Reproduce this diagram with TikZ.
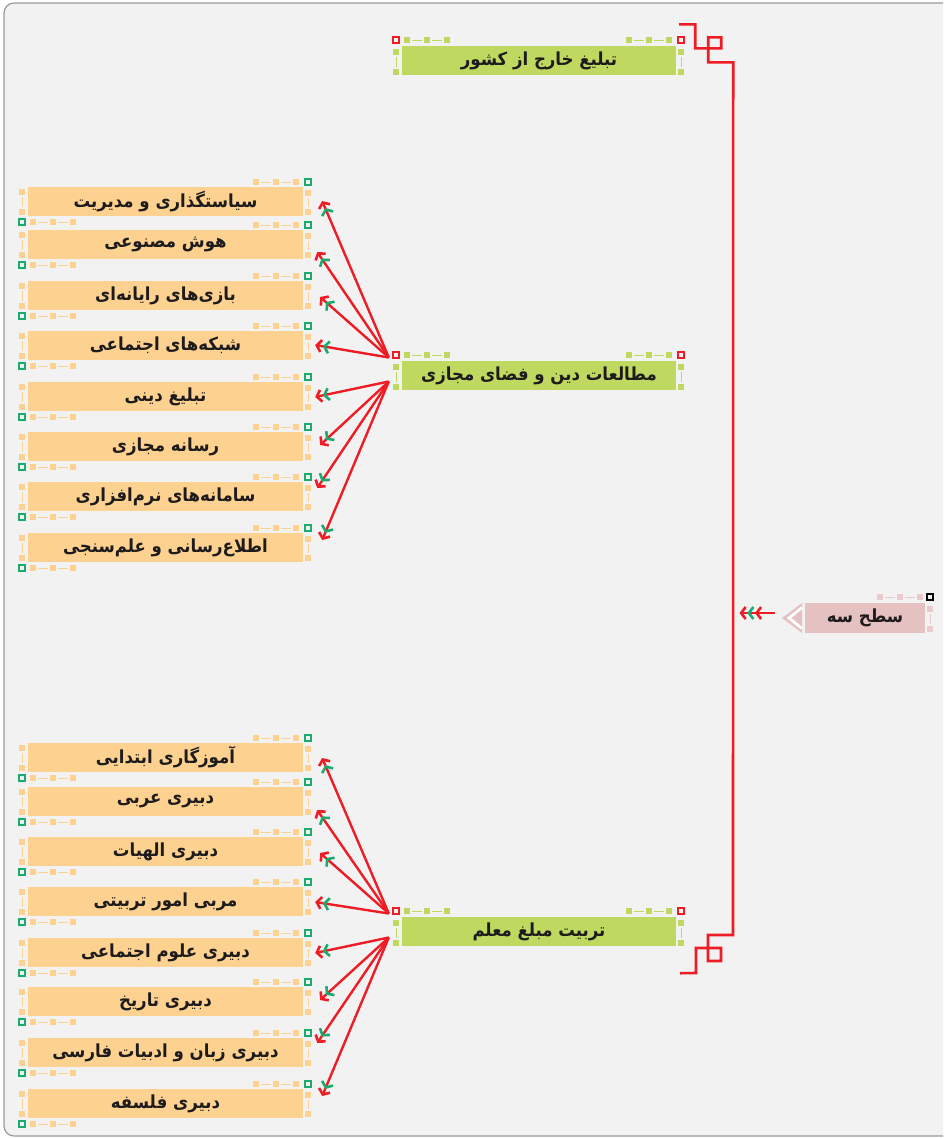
\documentclass[tikz,border=0pt]{standalone}
\usepackage{fontspec}
\usetikzlibrary{arrows.meta,calc}
\TeXXeTstate=1
\newfontfamily\fa[Script=Arabic,FakeStretch=0.92]{DejaVu Sans}
\definecolor{cBg}{HTML}{F2F2F2}
\definecolor{cFrame}{HTML}{9A9A9A}
\definecolor{cLime}{HTML}{BFD960}
\definecolor{cOrange}{HTML}{FDD18F}
\definecolor{cPink}{HTML}{E6C1C1}
\definecolor{cTeal}{HTML}{1DAA6F}
\definecolor{cRed}{HTML}{EE1D25}
\definecolor{cInk}{HTML}{1E1B1C}
\newcommand\hsq[3]{\fill[#3] (#1-3.1,#2-3.1) rectangle (#1+3.1,#2+3.1);}
\newcommand\osq[3]{\draw[#3,line width=1.5pt] (#1-3.2,#2-3.2) rectangle (#1+3.2,#2+3.2);}
\newcommand\hdsh[4]{\draw[#4,line width=1pt] (#1,#3) -- (#2,#3);}
\newcommand\vdsh[4]{\draw[#4,line width=1pt] (#3,#1) -- (#3,#2);}
% handles of an orange child box, #1 = top y
\newcommand\ohandles[1]{%
  \foreach \xx in {256,276,296} {\hsq{\xx}{#1-5}{cOrange}}
  \hdsh{261}{271}{#1-5}{cOrange}\hdsh{281}{291}{#1-5}{cOrange}
  \osq{308}{#1-5}{cTeal}
  \hsq{308}{#1+6}{cOrange}\hsq{308}{#1+25}{cOrange}\vdsh{#1+11}{#1+20}{308}{cOrange}
  \hsq{22}{#1+5}{cOrange}\hsq{22}{#1+25}{cOrange}\vdsh{#1+10}{#1+20}{22}{cOrange}
  \osq{22}{#1+35}{cTeal}
  \foreach \xx in {33,53,73} {\hsq{\xx}{#1+35}{cOrange}}
  \hdsh{38}{48}{#1+35}{cOrange}\hdsh{58}{68}{#1+35}{cOrange}
}
% handles of a green box, #1 = top y
\newcommand\ghandles[1]{%
  \osq{396}{#1-6}{cRed}\osq{681}{#1-6}{cRed}
  \foreach \xx in {407,427,447,629,649,669} {\hsq{\xx}{#1-6}{cLime}}
  \hdsh{412}{422}{#1-6}{cLime}\hdsh{432}{442}{#1-6}{cLime}
  \hdsh{634}{644}{#1-6}{cLime}\hdsh{654}{664}{#1-6}{cLime}
  \hsq{396}{#1+6}{cLime}\hsq{396}{#1+26}{cLime}\vdsh{#1+11}{#1+21}{396}{cLime}
  \hsq{681}{#1+6}{cLime}\hsq{681}{#1+26}{cLime}\vdsh{#1+11}{#1+21}{681}{cLime}
}
\tikzset{
  lbl/.style={font=\fa\bfseries\fontsize{18}{20}\selectfont, text=cInk, inner sep=0pt, minimum height=29pt},
  greenbox/.style={lbl, fill=cLime, minimum width=274pt},
  orangebox/.style={lbl, fill=cOrange, minimum width=275pt},
  rootbox/.style={lbl, fill=cPink, minimum width=120pt, minimum height=30pt},
  childlink/.style={draw=cRed, line width=2.4pt,
    -{Straight Barb[color=cTeal,length=4.5pt,width=12pt,line width=2.6pt,sep=0.3pt] Straight Barb[color=cRed,length=4.5pt,width=12pt,line width=2.6pt]}},
  rootlink/.style={draw=cRed, line width=2.4pt,
    -{Straight Barb[color=cRed,length=4.5pt,width=12pt,line width=2.6pt,sep=0.3pt] Straight Barb[color=cTeal,length=4.5pt,width=12pt,line width=2.6pt,sep=0.3pt] Straight Barb[color=cRed,length=4.5pt,width=12pt,line width=2.6pt]}},
  bus/.style={draw=cRed, line width=2.6pt}
}
\begin{document}
\begin{tikzpicture}[x=1pt,y=-1pt]
\useasboundingbox (0,0) rectangle (943,1138);
\clip (0,0) rectangle (943,1138);
\draw[fill=cBg, draw=cFrame, line width=1.2pt, rounded corners=10pt] (4,3) rectangle (965,1136);

% green parents
\ghandles{46}
\node[greenbox] (g1) at (539,60.5) {\beginR تبلیغ خارج از کشور\endR};
\ghandles{361}
\node[greenbox] (g2) at (539,375.5) {\beginR مطالعات دین و فضای مجازی\endR};
\ghandles{917}
\node[greenbox] (g3) at (539,931.5) {\beginR تربیت مبلغ معلم\endR};

% root
\hsq{880}{597}{cPink!85}\hsq{900}{597}{cPink!85}\hsq{920}{597}{cPink!85}
\hdsh{885}{895}{597}{cPink!85}\hdsh{905}{915}{597}{cPink!85}
\osq{930}{597}{black}
\hsq{930}{609}{cPink!85}\hsq{930}{629}{cPink!85}\vdsh{614}{624}{930}{cPink!85}
\node[rootbox] (root) at (865,618) {\beginR سطح سه\endR};
\fill[cPink] (802,603) -- (782,618) -- (802,633) -- cycle;
\draw[white, line width=2.8pt] (802,607.5) -- (789,618) -- (802,628.5);

% orange children, group 1
\foreach \t in {187,230,281,331,382,432,482,533} {\ohandles{\t}}
\node[orangebox] (a1) at (165.5,201.5) {\beginR سیاستگذاری و مدیریت\endR};
\node[orangebox] (a2) at (165.5,244.5) {\beginR هوش مصنوعی\endR};
\node[orangebox] (a3) at (165.5,295.5) {\beginR بازی‌های رایانه‌ای\endR};
\node[orangebox] (a4) at (165.5,345.5) {\beginR شبکه‌های اجتماعی\endR};
\node[orangebox] (a5) at (165.5,396.5) {\beginR تبلیغ دینی\endR};
\node[orangebox] (a6) at (165.5,446.5) {\beginR رسانه مجازی\endR};
\node[orangebox] (a7) at (165.5,496.5) {\beginR سامانه‌های نرم‌افزاری\endR};
\node[orangebox] (a8) at (165.5,547.5) {\beginR اطلاع‌رسانی و علم‌سنجی\endR};

% orange children, group 2
\foreach \t in {743,787,837,887,938,987,1038,1089} {\ohandles{\t}}
\node[orangebox] (b1) at (165.5,757.5) {\beginR آموزگاری ابتدایی\endR};
\node[orangebox] (b2) at (165.5,801.5) {\beginR دبیری عربی\endR};
\node[orangebox] (b3) at (165.5,851.5) {\beginR دبیری الهیات\endR};
\node[orangebox] (b4) at (165.5,901.5) {\beginR مربی امور تربیتی\endR};
\node[orangebox] (b5) at (165.5,952.5) {\beginR دبیری علوم اجتماعی\endR};
\node[orangebox] (b6) at (165.5,1001.5) {\beginR دبیری تاریخ\endR};
\node[orangebox] (b7) at (165.5,1052.5) {\beginR دبیری زبان و ادبیات فارسی\endR};
\node[orangebox] (b8) at (165.5,1103.5) {\beginR دبیری فلسفه\endR};

% links, group 1
\draw[childlink] ($(g2.west)+(-13,-18)$) -- ($(a1.east)+(19,-0.5)$);
\draw[childlink] ($(g2.west)+(-13,-18)$) -- ($(a2.east)+(14,7.5)$);
\draw[childlink] ($(g2.west)+(-13,-18)$) -- ($(a3.east)+(17,1.5)$);
\draw[childlink] ($(g2.west)+(-13,-18)$) -- ($(a4.east)+(12,-0.5)$);
\draw[childlink] ($(g2.west)+(-13,6)$) -- ($(a5.east)+(12,0.5)$);
\draw[childlink] ($(g2.west)+(-13,6)$) -- ($(a6.east)+(17,-1.5)$);
\draw[childlink] ($(g2.west)+(-13,6)$) -- ($(a7.east)+(14,-8.5)$);
\draw[childlink] ($(g2.west)+(-13,6)$) -- ($(a8.east)+(19,-7.5)$);
% links, group 2
\draw[childlink] ($(g3.west)+(-13,-18)$) -- ($(b1.east)+(19,0.5)$);
\draw[childlink] ($(g3.west)+(-13,-18)$) -- ($(b2.east)+(14,8.5)$);
\draw[childlink] ($(g3.west)+(-13,-18)$) -- ($(b3.east)+(17,1.5)$);
\draw[childlink] ($(g3.west)+(-13,-18)$) -- ($(b4.east)+(12,0.5)$);
\draw[childlink] ($(g3.west)+(-13,6)$) -- ($(b5.east)+(12,0.5)$);
\draw[childlink] ($(g3.west)+(-13,6)$) -- ($(b6.east)+(17,-1.5)$);
\draw[childlink] ($(g3.west)+(-13,6)$) -- ($(b7.east)+(14,-9.5)$);
\draw[childlink] ($(g3.west)+(-13,6)$) -- ($(b8.east)+(19,-7.5)$);

% bus with knots
\coordinate (busTop) at ($(g1.north east)+(3,-21.5)$);
\coordinate (busBot) at ($(g3.south east)+(4,27)$);
\coordinate (busMid) at (739.5,613);
\draw[bus] (busTop) -- ++(16,0) -- ++(0,24) -- ++(26,0) -- ++(0,-11) -- ++(-13,0) -- ++(0,25) -- ++(25,0)
  -- (733,935) -- ++(-25,0) -- ++(0,26) -- ++(13,0) -- ++(0,-13) -- ++(-25,0) -- ++(0,25) -- (busBot);
\draw[rootlink] ($(root.west)+(-30,-5)$) -- (busMid);
\end{tikzpicture}
\end{document}
